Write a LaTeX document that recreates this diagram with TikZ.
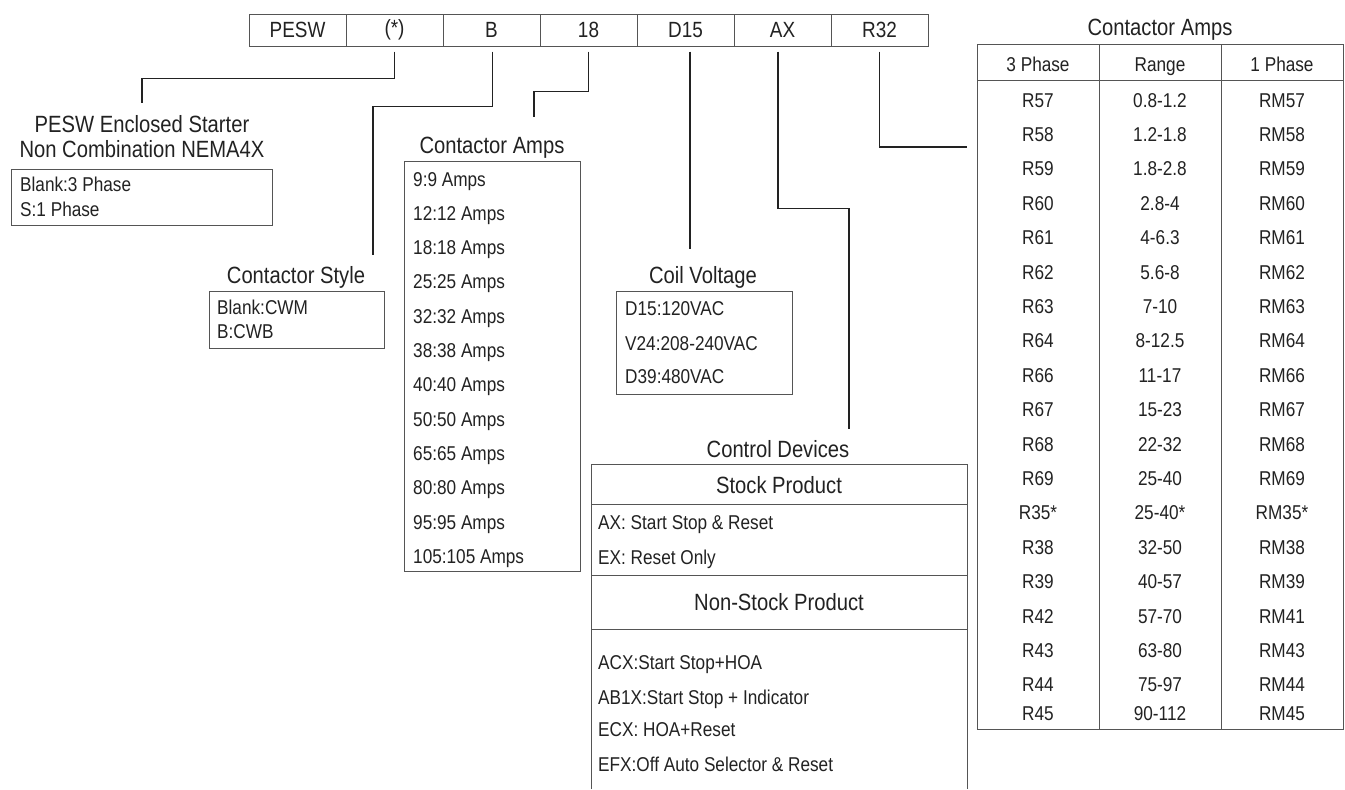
\documentclass[tikz,border=0pt]{standalone}
\usepackage{fontspec}
\setmainfont[FakeStretch=0.86]{Liberation Sans}
\usetikzlibrary{positioning}
\definecolor{ink}{HTML}{222222}
\definecolor{rule}{HTML}{555555}
\newcommand{\headfont}{\fontsize{23.5}{27}\selectfont}
\newcommand{\rowfont}{\fontsize{22}{26}\selectfont}
\newcommand{\itemfont}{\fontsize{20}{24}\selectfont}
\newcommand{\cellfont}{\fontsize{20}{24}\selectfont}
\tikzset{
  conn/.style={ink,line width=1.7pt},
  frame/.style={draw=rule,line width=1pt},
  partcell/.style={frame,minimum width=97pt,minimum height=32pt,inner sep=0pt,font=\rowfont,text=ink},
  heading/.style={font=\headfont,text=ink,inner sep=0pt,anchor=base},
  entry/.style={font=\itemfont,text=ink,inner sep=0pt,anchor=base west},
  tabentry/.style={font=\cellfont,text=ink,inner sep=0pt,anchor=base}
}

\begin{document}
\begin{tikzpicture}[x=1pt,y=-1pt]
    \fill[white] (0,0) rectangle (1345,789);
    % part number
    \foreach \t/\n [count=\i from 0] in {PESW/pesw,{(*)}/star,B/sty,18/amp,D15/coil,AX/dev,R32/ovl}
        \node[partcell] (\n) at (297.5+97*\i,30) {\t};

    % connector ends
    \coordinate (phsend) at (142,103);
    \coordinate (styend) at (373,255);
    \coordinate (ampend) at (534,117);
    \coordinate (coilend) at (690,249);
    \coordinate (devend) at (849,429);
    \coordinate (ovlend) at (967,147);
    \draw[conn] ([yshift=-5pt]star.south) -- ++(0,27) -| (phsend);
    \draw[conn] ([xshift=1pt,yshift=-5pt]sty.south) -- ++(0,55) -| (styend);
    \draw[conn] ([yshift=-5pt]amp.south) -- ++(0,40) -| (ampend);
    \draw[conn] ([xshift=4.5pt,yshift=-5pt]coil.south) -- (coilend);
    \draw[conn] ([xshift=-4.5pt,yshift=-5pt]dev.south) -- ++(0,157) -| (devend);
    \draw[conn] ([yshift=-5pt]ovl.south) |- (ovlend);

    % phase
    \node[heading] (phsA) at (142,132) {PESW Enclosed Starter};
    \node[heading] (phsB) at (142,157) {Non Combination NEMA4X};
    \draw[frame] (11,169) rectangle (272,225);
    \node[entry] (phs1) at (20,191) {Blank:3 Phase};
    \node[entry] (phs2) at (20,216) {S:1 Phase};

    % contactor style
    \node[heading] (styttl) at (296,283) {Contactor Style};
    \draw[frame] (209,291) rectangle (384,348);
    \node[entry] (sty1) at (217,314) {Blank:CWM};
    \node[entry] (sty2) at (217,338) {B:CWB};

    % contactor amps
    \node[heading] (ampttl) at (492,153) {Contactor Amps};
    \draw[frame] (404,161) rectangle (580,571);
    \foreach \t [count=\i from 0] in {9:9,12:12,18:18,25:25,32:32,38:38,40:40,50:50,65:65,80:80,95:95,105:105}
        \node[entry] (amp\i) at (413,186+34.3*\i) {\t{} Amps};

    % coil voltage
    \node[heading] (coilttl) at (703,283) {Coil Voltage};
    \draw[frame] (616,291) rectangle (792,394);
    \node[entry] (coil1) at (625,315) {D15:120VAC};
    \node[entry] (coil2) at (625,350) {V24:208-240VAC};
    \node[entry] (coil3) at (625,383) {D39:480VAC};

    % control devices
    \node[heading] (devttl) at (778,457) {Control Devices};
    \draw[frame] (591,789) -- (591,464) -- (967,464) -- (967,789);
    \draw[frame] (591,504) -- (967,504) (591,575) -- (967,575) (591,629) -- (967,629);
    \node[heading] (stock) at (779,493) {Stock Product};
    \node[entry] (dev1) at (598,529) {AX: Start Stop \& Reset};
    \node[entry] (dev2) at (598,564) {EX: Reset Only};
    \node[heading] (nonstock) at (779,610) {Non-Stock Product};
    \node[entry] (dev3) at (598,669) {ACX:Start Stop+HOA};
    \node[entry] (dev4) at (598,704) {AB1X:Start Stop + Indicator};
    \node[entry] (dev5) at (598,736) {ECX: HOA+Reset};
    \node[entry] (dev6) at (598,771) {EFX:Off Auto Selector \& Reset};

    % overload table
    \node[heading] (tabttl) at (1160,35) {Contactor Amps};
    \draw[frame] (977,44) rectangle (1343,729);
    \draw[frame] (977,80) -- (1343,80) (1099,44) -- (1099,729) (1221,44) -- (1221,729);
    \foreach \t/\x [count=\j] in {3 Phase/1038,Range/1160,1 Phase/1282}
        \node[tabentry] (hd\j) at (\x,71) {\t};
    \foreach \a/\b/\c [count=\i from 0] in {R57/0.8-1.2/RM57,R58/1.2-1.8/RM58,R59/1.8-2.8/RM59,R60/2.8-4/RM60,R61/4-6.3/RM61,R62/5.6-8/RM62,R63/7-10/RM63,R64/8-12.5/RM64,R66/11-17/RM66,R67/15-23/RM67,R68/22-32/RM68,R69/25-40/RM69,R35*/25-40*/RM35*,R38/32-50/RM38,R39/40-57/RM39,R42/57-70/RM41,R43/63-80/RM43,R44/75-97/RM44,R45/90-112/RM45}{
        \pgfmathsetmacro\yy{107+34.4*\i-(\i==18)*6}
        \node[tabentry] (ra\i) at (1038,\yy) {\a};
        \node[tabentry] (rb\i) at (1160,\yy) {\b};
        \node[tabentry] (rc\i) at (1282,\yy) {\c};
    }
\end{tikzpicture}
\end{document}
